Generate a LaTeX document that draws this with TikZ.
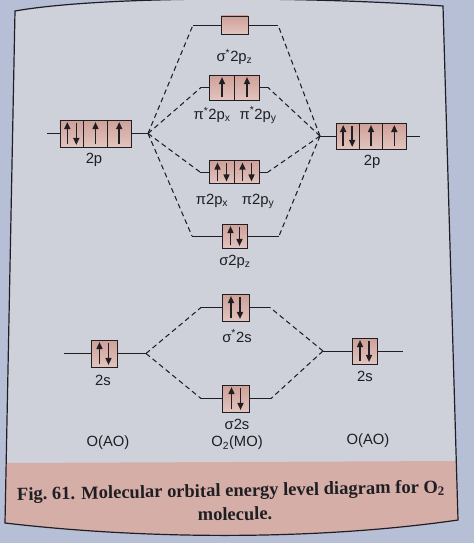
\documentclass[tikz,border=0pt]{standalone}
\usepackage{fontspec}
\setmainfont{Liberation Sans}
\newfontfamily\capfont{Liberation Serif}
\usetikzlibrary{arrows.meta}
\definecolor{page}{RGB}{206,209,218}
\definecolor{pageout}{RGB}{182,191,214}
\definecolor{boxtop}{RGB}{206,160,152}
\definecolor{boxbot}{RGB}{226,196,190}
\definecolor{band}{RGB}{214,174,168}
\definecolor{ink}{RGB}{30,30,35}
\newcommand\eup[2][0pt]{\draw[elec] ([xshift=#1,yshift=3pt]#2.south) -- ([xshift=#1,yshift=-2.5pt]#2.north);}
\newcommand\edn[2][0pt]{\draw[elec] ([xshift=#1,yshift=-3pt]#2.north) -- ([xshift=#1,yshift=2.5pt]#2.south);}
\newcommand\epair[1]{\eup[-4.5pt]{#1}\edn[4.5pt]{#1}}
\begin{document}
\begin{tikzpicture}[x=1pt,y=-1pt,
  cell/.style={draw=ink,line width=0.9pt,top color=boxtop,bottom color=boxbot,minimum width=25pt,minimum height=26pt,inner sep=0pt},
  level/.style={draw=ink,line width=0.9pt},
  link/.style={draw=ink,line width=1.05pt,dash pattern=on 5pt off 3.5pt},
  elec/.style={draw=ink,line width=1.5pt,-{Triangle[length=7pt,width=6pt]}},
  lab/.style={text=ink,font=\fontsize{14.8}{17}\selectfont,inner sep=0pt},
  frame/.style={draw=ink,line width=1.2pt}]
\fill[pageout] (0,0) rectangle (474,543);
\useasboundingbox (0,0) rectangle (474,543);
% page and frame
\fill[page] (15,11) .. controls (100,-4) and (300,-4) .. (443,6) -- (458,520) .. controls (320,540) and (150,540) .. (5,523) -- cycle;
\fill[band] (6.2,463) -- (456.3,461) -- (458,520) .. controls (320,540) and (150,540) .. (5,523) -- cycle;
\draw[frame] (15,11) .. controls (100,-4) and (300,-4) .. (443,6) -- (458,520) .. controls (320,540) and (150,540) .. (5,523) -- cycle;

% ---- orbital boxes ----
\node[cell,minimum width=27pt,minimum height=18pt] (sz) at (234.5,25) {};
\node[cell,minimum height=25pt] (pa1) at (222,87.5) {};
\node[cell,minimum height=25pt] (pa2) at (247,87.5) {};
\node[cell,minimum height=23pt] (pb1) at (222,172) {};
\node[cell,minimum height=23pt] (pb2) at (247,172) {};
\node[cell,minimum height=24pt] (sp) at (235,236) {};
\node[cell,minimum width=23.7pt,minimum height=27pt] (l1) at (71.8,133.5) {};
\node[cell,minimum width=23.7pt,minimum height=27pt] (l2) at (95.5,133.5) {};
\node[cell,minimum width=23.7pt,minimum height=27pt] (l3) at (119.2,133.5) {};
\node[cell,minimum width=23.4pt] (r1) at (347.7,136) {};
\node[cell,minimum width=23.4pt] (r2) at (371,136) {};
\node[cell,minimum width=23.4pt] (r3) at (394.3,136) {};
\node[cell,minimum width=26pt,minimum height=27pt] (ls) at (104,353.5) {};
\node[cell,minimum width=27pt,minimum height=27pt] (ss) at (235.5,307.5) {};
\node[cell,minimum width=27pt,minimum height=27pt] (bs) at (236,398.5) {};
\node[cell] (rs) at (364.5,351) {};

% ---- electrons ----
\eup{pa1}\eup{pa2}
\epair{pb1}\epair{pb2}
\epair{sp}
\epair{l1}\eup{l2}\eup{l3}
\epair{r1}\eup{r2}\eup{r3}
\epair{ls}\epair{ss}\epair{bs}\epair{rs}

% ---- level end points ----
\coordinate (lpa) at (47,133.5);
\coordinate (lpj) at (148,133.5);
\coordinate (rpj) at (320,136);
\coordinate (rpa) at (420,136);
\coordinate (szl) at (193,25);
\coordinate (szr) at (278,25);
\coordinate (pal) at (201,87.5);
\coordinate (par) at (268,87.5);
\coordinate (pbl) at (200,172);
\coordinate (pbr) at (268,172);
\coordinate (spl) at (192,236);
\coordinate (spr) at (279,236);
\coordinate (lsa) at (64,353.5);
\coordinate (lsj) at (146,353.5);
\coordinate (rsj) at (323,351);
\coordinate (rsa) at (403,351);
\coordinate (ssl) at (201,307.5);
\coordinate (ssr) at (270,307.5);
\coordinate (bsl) at (201,398.5);
\coordinate (bsr) at (271,398.5);

% ---- solid level lines ----
\draw[level] (lpa) -- (l1.west);
\draw[level] (l3.east) -- (lpj);
\draw[level] (rpj) -- (r1.west);
\draw[level] (r3.east) -- (rpa);
\draw[level] (szl) -- (sz.west);
\draw[level] (sz.east) -- (szr);
\draw[level] (pal) -- (pa1.west);
\draw[level] (pa2.east) -- (par);
\draw[level] (pbl) -- (pb1.west);
\draw[level] (pb2.east) -- (pbr);
\draw[level] (spl) -- (sp.west);
\draw[level] (sp.east) -- (spr);
\draw[level] (lsa) -- (ls.west);
\draw[level] (ls.east) -- (lsj);
\draw[level] (rsj) -- (rs.west);
\draw[level] (rs.east) -- (rsa);
\draw[level] (ssl) -- (ss.west);
\draw[level] (ss.east) -- (ssr);
\draw[level] (bsl) -- (bs.west);
\draw[level] (bs.east) -- (bsr);

% ---- dashed correlation lines ----
\draw[link] (lpj) -- (szl);
\draw[link] (lpj) -- (pal);
\draw[link] (lpj) -- (pbl);
\draw[link] (lpj) -- (spl);
\draw[link] (rpj) -- (szr);
\draw[link] (rpj) -- (par);
\draw[link] (rpj) -- (pbr);
\draw[link] (rpj) -- (spr);
\draw[link] (lsj) -- (ssl);
\draw[link] (lsj) -- (bsl);
\draw[link] (rsj) -- (ssr);
\draw[link] (rsj) -- (bsr);

% ---- labels ----
\node[lab] (tsz) at (234.5,57) {σ\textsuperscript{*}2p\textsubscript{z}};
\node[lab] (tpa1) at (212,115) {π\textsuperscript{*}2p\textsubscript{x}};
\node[lab] (tpa2) at (258,115) {π\textsuperscript{*}2p\textsubscript{y}};
\node[lab] (tpb1) at (212,201) {π2p\textsubscript{x}};
\node[lab] (tpb2) at (258,201) {π2p\textsubscript{y}};
\node[lab] (tsp) at (235,262) {σ2p\textsubscript{z}};
\node[lab] (tl) at (94,160) {2p};
\node[lab] (tr) at (372,162) {2p};
\node[lab] (tls) at (103,380) {2s};
\node[lab] (trs) at (365,376) {2s};
\node[lab] (tss) at (237,336) {σ\textsuperscript{*}2s};
\node[lab] (tbs) at (237,424) {σ2s};
\node[lab] (ao1) at (108,443) {O(AO)};
\node[lab] (mo) at (237,443) {O\textsubscript{2}(MO)};
\node[lab] (ao2) at (368,441) {O(AO)};

% ---- caption ----
\node[text=ink,inner sep=0pt,rotate=1] (cap1) at (231,492) {\capfont\bfseries\fontsize{18.5}{21}\selectfont Fig.~61. Molecular orbital energy level diagram for O\textsubscript{2}};
\node[text=ink,inner sep=0pt,rotate=1] (cap2) at (235,514) {\capfont\bfseries\fontsize{18.5}{21}\selectfont molecule.};
\end{tikzpicture}
\end{document}
